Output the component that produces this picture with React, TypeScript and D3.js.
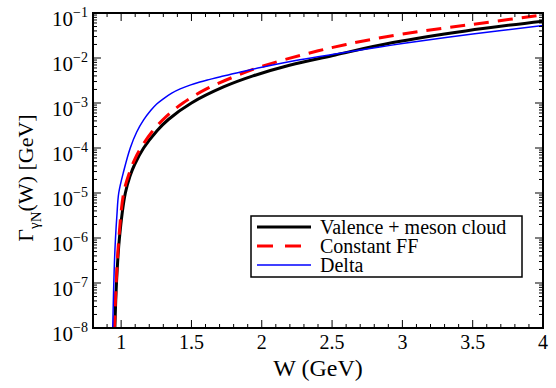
import React from "react";
import * as d3 from "d3";

// ---- data ----
const wValence = [0.955, 0.967, 0.988, 1.03, 1.064, 1.096, 1.16, 1.254, 1.336, 1.5, 1.732, 1.938, 2.197, 2.523, 2.933, 3.45, 4.0];
const gValence = [8.9e-9, 1.0e-7, 1.0e-6, 1.0e-5, 2.4e-5, 4.3e-5, 1.0e-4, 2.4e-4, 4.3e-4, 1.0e-3, 2.3e-3, 4.0e-3, 6.9e-3, 1.17e-2, 2.2e-2, 4.0e-2, 6.6e-2];

const wConst = [0.952, 0.965, 0.984, 1.018, 1.06, 1.1, 1.14, 1.22, 1.32, 1.44, 1.6, 1.8, 2.0, 2.3, 2.6, 3.0, 3.5, 4.0];
const gConst = [8.9e-9, 1.0e-7, 1.0e-6, 1.0e-5, 2.9e-5, 5.9e-5, 1.0e-4, 2.3e-4, 5.0e-4, 1.0e-3, 2.0e-3, 3.8e-3, 6.5e-3, 1.2e-2, 2.0e-2, 3.4e-2, 5.6e-2, 9.1e-2];

const wDelta = [0.94, 0.944, 0.948, 0.953, 0.96, 0.97, 0.983, 1.02, 1.065, 1.11, 1.16, 1.21, 1.253, 1.3, 1.36, 1.42, 1.49, 1.56, 1.632, 1.7, 1.774, 1.85, 2.0, 2.27, 2.5, 2.84, 3.0, 3.5, 4.0];
const gDelta = [8.9e-9, 3.2e-8, 1.0e-7, 3.2e-7, 1.0e-6, 3.2e-6, 1.0e-5, 3.2e-5, 1.0e-4, 2.24e-4, 4.2e-4, 6.8e-4, 9.5e-4, 1.24e-3, 1.66e-3, 2.06e-3, 2.5e-3, 2.92e-3, 3.35e-3, 3.8e-3, 4.3e-3, 4.9e-3, 6.2e-3, 9.1e-3, 1.2e-2, 1.76e-2, 2.09e-2, 3.4e-2, 5.3e-2];

const xMajorTicks = [1, 1.5, 2, 2.5, 3, 3.5, 4];
const xTickLabels = ["1", "1.5", "2", "2.5", "3", "3.5", "4"];
const yExponents = [-8, -7, -6, -5, -4, -3, -2, -1];
const legendLabels = ["Valence + meson cloud", "Constant FF", "Delta"];

const FONT = "Liberation Serif";
const fontStyle = { fontFamily: '"Liberation Serif"' };

export default function App() {
  const left = 93, right = 543, top = 13, bottom = 328;
  const x = d3.scaleLinear().domain([0.8, 4]).range([left, right]);
  const y = d3.scaleLog().domain([1e-8, 1e-1]).range([bottom, top]);

  const line = d3
    .line<[number, number]>()
    .x((d) => x(d[0]))
    .y((d) => y(d[1]))
    .curve(d3.curveCatmullRom.alpha(0.5));

  const zip = (a: number[], b: number[]) => a.map((v, i) => [v, b[i]] as [number, number]);

  const series = [
    { data: zip(wValence, gValence), color: "#000000", width: 3, dash: undefined as string | undefined },
    { data: zip(wConst, gConst), color: "#ff0000", width: 3, dash: "15 9" },
    { data: zip(wDelta, gDelta), color: "#0000ff", width: 1.5, dash: undefined as string | undefined },
  ];

  const xMinor: number[] = [];
  for (let i = 9; i < 40; i++) {
    if (i % 5 !== 0) xMinor.push(i / 10);
  }
  const yMinor: number[] = [];
  for (let e = -8; e < -1; e++) {
    for (let k = 2; k <= 9; k++) yMinor.push(k * Math.pow(10, e));
  }

  const legendX = 251, legendY = 216, legendW = 271, legendH = 61;
  const rowY = [227, 246, 265];

  return (
    <svg width={556} height={388} style={{ position: "absolute", left: 0, top: 0 }}>
      <defs>
        <clipPath id="plotclip">
          <rect x={left} y={top} width={right - left} height={bottom - top} />
        </clipPath>
      </defs>
      <rect x={0} y={0} width={556} height={388} fill="#fff" />

      <g clipPath="url(#plotclip)">
        {series.map((s, i) => (
          <path key={i} d={line(s.data) || ""} fill="none" stroke={s.color} strokeWidth={s.width} strokeDasharray={s.dash} />
        ))}
      </g>

      <g stroke="#000" strokeWidth={1}>
        {xMajorTicks.map((t, i) => (
          <g key={"xM" + i}>
            <line x1={x(t)} x2={x(t)} y1={bottom} y2={bottom - 8} />
            <line x1={x(t)} x2={x(t)} y1={top} y2={top + 8} />
          </g>
        ))}
        {xMinor.map((t, i) => (
          <g key={"xm" + i}>
            <line x1={x(t)} x2={x(t)} y1={bottom} y2={bottom - 4} />
            <line x1={x(t)} x2={x(t)} y1={top} y2={top + 4} />
          </g>
        ))}
        {yExponents.map((e, i) => (
          <g key={"yM" + i}>
            <line x1={left} x2={left + 8} y1={y(Math.pow(10, e))} y2={y(Math.pow(10, e))} />
            <line x1={right} x2={right - 8} y1={y(Math.pow(10, e))} y2={y(Math.pow(10, e))} />
          </g>
        ))}
        {yMinor.map((v, i) => (
          <g key={"ym" + i}>
            <line x1={left} x2={left + 4} y1={y(v)} y2={y(v)} />
            <line x1={right} x2={right - 4} y1={y(v)} y2={y(v)} />
          </g>
        ))}
      </g>

      <rect x={left} y={top} width={right - left} height={bottom - top} fill="none" stroke="#000" strokeWidth={2} />

      {xMajorTicks.map((t, i) => (
        <text key={"xl" + i} x={x(t)} y={349} textAnchor="middle" fontSize={20} fill="#000" fontFamily={FONT} style={fontStyle}>
          {xTickLabels[i]}
        </text>
      ))}

      {yExponents.map((e, i) => (
        <text key={"yl" + i} x={88} y={y(Math.pow(10, e)) + 13} textAnchor="end" fill="#000" fontSize={21} fontFamily={FONT} style={fontStyle}>
          10
          <tspan fontSize={14} dy={-9} fontFamily={FONT} style={fontStyle}>
            {"\u2212" + Math.abs(e)}
          </tspan>
        </text>
      ))}

      <text x={318} y={376} textAnchor="middle" fontSize={24} fill="#000" fontFamily={FONT} style={fontStyle}>
        W (GeV)
      </text>
      <text transform="translate(33,178) rotate(-90)" textAnchor="middle" fontSize={22} fill="#000" fontFamily={FONT} style={fontStyle}>
        Γ
        <tspan fontSize={15} dy={6} fontFamily={FONT} style={fontStyle}>γ</tspan>
        <tspan fontSize={15} dy={2} fontFamily={FONT} style={fontStyle}>N</tspan>
        <tspan dy={-8} fontFamily={FONT} style={fontStyle}>(W) [GeV]</tspan>
      </text>

      <rect x={legendX} y={legendY} width={legendW} height={legendH} fill="#fff" stroke="#000" strokeWidth={1.5} />
      {series.map((s, i) => (
        <g key={"lg" + i}>
          <line x1={257} x2={311} y1={rowY[i]} y2={rowY[i]} stroke={s.color} strokeWidth={s.width} strokeDasharray={s.dash ? "16 12" : undefined} />
          <text x={320} y={rowY[i] + 7} fontSize={20} fill="#000" fontFamily={FONT} style={fontStyle}>
            {legendLabels[i]}
          </text>
        </g>
      ))}
    </svg>
  );
}
